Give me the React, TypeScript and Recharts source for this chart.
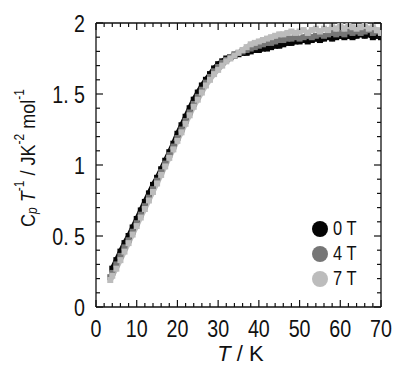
import { ComposedChart, Line, XAxis, YAxis } from 'recharts';

const temps = [
  3.5, 4, 5, 6, 7, 8, 9, 10, 11, 12, 13, 14, 15, 16, 17, 18, 19, 20, 21, 22, 23, 24, 25, 26, 27,
  28, 29, 30, 31, 32, 33, 34, 35, 36, 37, 38, 39, 40, 41, 42, 43, 44, 45, 46, 47, 48, 49, 50, 51,
  52, 53, 54, 55, 56, 57, 58, 59, 60, 61, 62, 63, 64, 65, 66, 67, 68, 69, 70,
];
const cp0T = [
  null, 0.27, 0.33, 0.39, 0.45, 0.5, 0.56, 0.62, 0.68, 0.74, 0.8, 0.86, 0.91, 0.97, 1.03, 1.09,
  1.15, 1.22, 1.28, 1.34, 1.4, 1.46, 1.51, 1.56, 1.6, 1.64, 1.68, 1.71, 1.73, 1.75, 1.76, 1.77,
  1.78, 1.79, 1.79, 1.8, 1.81, 1.81, 1.82, 1.82, 1.83, 1.84, 1.84, 1.85, 1.86, 1.86, 1.87, 1.87,
  1.88, 1.87, 1.88, 1.89, 1.88, 1.89, 1.9, 1.89, 1.9, 1.91, 1.9, 1.91, 1.9, 1.91, 1.92, 1.91, 1.92,
  1.9, 1.91, 1.9,
];
const cp4T = [
  0.21, 0.24, 0.3, 0.36, 0.42, 0.47, 0.53, 0.59, 0.65, 0.71, 0.77, 0.83, 0.89, 0.95, 1.01, 1.07,
  1.13, 1.19, 1.25, 1.31, 1.37, 1.43, 1.48, 1.53, 1.58, 1.62, 1.66, 1.69, 1.72, 1.74, 1.76, 1.78,
  1.79, 1.8, 1.81, 1.82, 1.83, 1.84, 1.85, 1.86, 1.86, 1.87, 1.88, 1.88, 1.89, 1.89, 1.9, 1.89,
  1.9, 1.91, 1.9, 1.91, 1.92, 1.91, 1.92, 1.93, 1.92, 1.93, 1.92, 1.94, 1.93, 1.94, 1.93, 1.94,
  1.95, 1.93, 1.94, 1.93,
];
const cp7T = [
  0.19, 0.22, 0.27, 0.33, 0.39, 0.45, 0.51, 0.57, 0.63, 0.69, 0.75, 0.81, 0.87, 0.93, 0.99, 1.05,
  1.11, 1.17, 1.23, 1.29, 1.35, 1.41, 1.46, 1.51, 1.56, 1.6, 1.64, 1.67, 1.7, 1.73, 1.75, 1.77,
  1.79, 1.81, 1.83, 1.85, 1.86, 1.87, 1.88, 1.89, 1.9, 1.91, 1.92, 1.92, 1.93, 1.94, 1.93, 1.94,
  1.95, 1.93, 1.95, 1.96, 1.94, 1.96, 1.95, 1.97, 1.96, 1.98, 1.96, 1.98, 1.97, 1.96, 1.97, 1.98,
  1.96, 1.97, 1.95, 1.93,
];

const xTicks = [
  0, 2, 4, 6, 8, 10, 12, 14, 16, 18, 20, 22, 24, 26, 28, 30, 32, 34, 36, 38, 40, 42, 44, 46, 48, 50,
  52, 54, 56, 58, 60, 62, 64, 66, 68, 70,
];
const xLabels = [0, 10, 20, 30, 40, 50, 60, 70];
const yTicks = [
  0, 0.1, 0.2, 0.3, 0.4, 0.5, 0.6, 0.7, 0.8, 0.9, 1, 1.1, 1.2, 1.3, 1.4, 1.5, 1.6, 1.7, 1.8, 1.9, 2,
];
const yLabels = [0, 0.5, 1, 1.5, 2];

const series = [
  { key: 'b0', name: '0 T', color: '#050505' },
  { key: 'b4', name: '4 T', color: '#767676' },
  { key: 'b7', name: '7 T', color: '#bcbcbc' },
];

const data = temps.map((t, i) => ({ t, b0: cp0T[i], b4: cp4T[i], b7: cp7T[i] }));

const FONT = "'Liberation Sans', Arial, sans-serif";
const INK = '#111';
const NARROW = 0.82;

const isMajorX = (v: number) => xLabels.includes(v);
const isMajorY = (v: number) => yLabels.some((l) => Math.abs(l - v) < 1e-6);
const fmtY = (v: number) => (Number.isInteger(v) ? String(v) : v.toFixed(1).replace('.', '. '));

function BottomTick({ x, y, payload }: any) {
  const v = payload.value;
  const len = isMajorX(v) ? 7 : 4;
  return (
    <g>
      <line x1={x} y1={y} x2={x} y2={y - len} stroke={INK} strokeWidth={1.2} />
      {isMajorX(v) && (
        <g transform={`translate(${x} ${y + 30}) scale(${NARROW} 1)`}>
          <text x={0} y={0} textAnchor="middle" fontSize={24} fontFamily={FONT} fill={INK}>
            {v}
          </text>
        </g>
      )}
    </g>
  );
}

function TopTick({ x, y, payload }: any) {
  const len = isMajorX(payload.value) ? 7 : 4;
  return <line x1={x} y1={y} x2={x} y2={y + len} stroke={INK} strokeWidth={1.2} />;
}

function LeftTick({ x, y, payload }: any) {
  const v = payload.value;
  const len = isMajorY(v) ? 7 : 4;
  return (
    <g>
      <line x1={x} y1={y} x2={x + len} y2={y} stroke={INK} strokeWidth={1.2} />
      {isMajorY(v) && (
        <g transform={`translate(${x - 11} ${y + 8.5}) scale(${NARROW} 1)`}>
          <text x={0} y={0} textAnchor="end" fontSize={24} fontFamily={FONT} fill={INK}>
            {fmtY(v)}
          </text>
        </g>
      )}
    </g>
  );
}

function RightTick({ x, y, payload }: any) {
  const len = isMajorY(payload.value) ? 7 : 4;
  return <line x1={x} y1={y} x2={x - len} y2={y} stroke={INK} strokeWidth={1.2} />;
}

function YTitle({ viewBox }: any) {
  const cx = viewBox.x + 27;
  const cy = 158;
  return (
    <g transform={`translate(${cx} ${cy}) rotate(-90) scale(0.86 1)`}>
      <text
        x={0}
        y={0}
        textAnchor="middle"
        dominantBaseline="central"
        fontSize={21}
        fontFamily={FONT}
        fill={INK}
      >
        <tspan>C</tspan>
        <tspan fontSize={14} fontStyle="italic" dy={5}>p</tspan>
        <tspan dy={-5}> </tspan>
        <tspan fontStyle="italic">T</tspan>
        <tspan fontSize={14} dy={-8}>-1</tspan>
        <tspan dy={8}> / JK</tspan>
        <tspan fontSize={14} dy={-8}>-2</tspan>
        <tspan dy={8}> mol</tspan>
        <tspan fontSize={14} dy={-8}>-1</tspan>
      </text>
    </g>
  );
}

function XTitle({ viewBox }: any) {
  const cx = viewBox.x + viewBox.width / 2 + 2;
  return (
    <text x={cx} y={viewBox.y + 54} textAnchor="middle" fontSize={22} fontFamily={FONT} fill={INK}>
      <tspan fontStyle="italic">T</tspan>
      <tspan> / K</tspan>
    </text>
  );
}

function Square(props: any) {
  const { cx, cy, fill, index } = props;
  if (cx == null || cy == null) return <g key={index} />;
  return <rect key={index} x={cx - 3} y={cy - 3} width={6} height={6} fill={fill} />;
}

function FieldLegend() {
  return (
    <div
      style={{
        position: 'absolute',
        left: 312,
        top: 216,
        fontFamily: FONT,
        fontSize: 20,
        color: INK,
      }}
    >
      {series.map((s) => (
        <div key={s.key} style={{ display: 'flex', alignItems: 'center', height: 25 }}>
          <span
            style={{
              display: 'inline-block',
              width: 16,
              height: 16,
              borderRadius: '50%',
              backgroundColor: s.color,
              marginRight: 5,
            }}
          />
          <span style={{ display: 'inline-block', transform: `scaleX(${NARROW})`, transformOrigin: 'left center' }}>
            {s.name}
          </span>
        </div>
      ))}
    </div>
  );
}

export default function App() {
  return (
    <div style={{ position: 'fixed', left: 0, top: 0, width: 406, height: 375, background: '#fff' }}>
      <ComposedChart
        width={406}
        height={375}
        data={data}
        margin={{ top: 22, right: 24, bottom: 0, left: 0 }}
      >
        <XAxis
          dataKey="t"
          type="number"
          domain={[0, 70]}
          allowDataOverflow
          ticks={xTicks}
          interval={0}
          height={68}
          tickSize={0}
          tickMargin={0}
          tickLine={false}
          tick={<BottomTick />}
          axisLine={{ stroke: INK, strokeWidth: 1.3 }}
          label={{ content: XTitle }}
        />
        <XAxis
          xAxisId="top"
          orientation="top"
          type="number"
          dataKey="t"
          domain={[0, 70]}
          allowDataOverflow
          ticks={xTicks}
          interval={0}
          height={1}
          tickSize={0}
          tickMargin={0}
          tickLine={false}
          tick={<TopTick />}
          axisLine={{ stroke: INK, strokeWidth: 1.3 }}
        />
        <YAxis
          type="number"
          domain={[0, 2]}
          allowDataOverflow
          ticks={yTicks}
          interval={0}
          width={96}
          tickSize={0}
          tickMargin={0}
          tickLine={false}
          tick={<LeftTick />}
          axisLine={{ stroke: INK, strokeWidth: 1.3 }}
          label={{ content: YTitle }}
        />
        <YAxis
          yAxisId="right"
          orientation="right"
          type="number"
          domain={[0, 2]}
          allowDataOverflow
          ticks={yTicks}
          interval={0}
          width={1}
          tickSize={0}
          tickMargin={0}
          tickLine={false}
          tick={<RightTick />}
          axisLine={{ stroke: INK, strokeWidth: 1.3 }}
        />
        {/* invisible series so the mirrored frame axes get drawn */}
        <Line
          xAxisId="top"
          yAxisId="right"
          dataKey="b7"
          stroke="none"
          dot={false}
          activeDot={false}
          legendType="none"
          isAnimationActive={false}
        />
        {series.map((s) => (
          <Line
            key={s.key}
            dataKey={s.key}
            name={s.name}
            type="linear"
            stroke={s.color}
            strokeWidth={5}
            fill={s.color}
            dot={<Square fill={s.color} />}
            activeDot={false}
            isAnimationActive={false}
          />
        ))}
      </ComposedChart>
      <FieldLegend />
    </div>
  );
}
